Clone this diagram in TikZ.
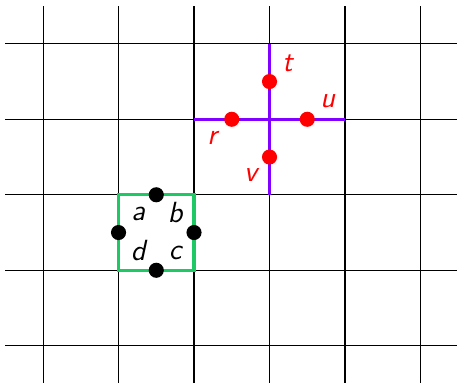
\documentclass[tikz,border=0pt]{standalone}
\usetikzlibrary{calc}
\definecolor{gridgreen}{RGB}{30,200,100}
\definecolor{violetline}{RGB}{130,0,255}
\begin{document}
\begin{tikzpicture}[x=1cm,y=1cm,
  gridline/.style={black,line width=0.4pt},
  bdot/.style={circle,fill=black,inner sep=0pt,minimum size=0.2cm},
  rdot/.style={circle,fill=red,inner sep=0pt,minimum size=0.2cm},
  lab/.style={font=\fontsize{11}{13}\selectfont\sffamily\slshape,inner sep=0pt},
  rlab/.style={lab,text=red}]
\useasboundingbox (-0.57,-0.49) rectangle (5.51,4.58);
% grid
\foreach \i in {0,...,5} {
  \draw[gridline] (\i,-0.49) -- (\i,4.50);
}
\foreach \j in {0,...,4} {
  \draw[gridline] (-0.50,\j) -- (5.48,\j);
}
% green square
\draw[gridgreen,line width=1.2pt] (1,1) rectangle (2,2);
\node[bdot] (top) at (1.5,2) {};
\node[bdot] (left) at (1,1.5) {};
\node[bdot] (right) at (2,1.5) {};
\node[bdot] (bottom) at (1.5,1) {};
\node[lab] (la) at (1.26,1.75) {a};
\node[lab] (lb) at (1.75,1.77) {b};
\node[lab] (ld) at (1.26,1.26) {d};
\node[lab] (lc) at (1.75,1.23) {c};
% purple cross
\coordinate (hl) at (2,3);
\coordinate (hr) at (4,3);
\coordinate (vt) at (3,4);
\coordinate (vb) at (3,2);
\draw[violetline,line width=1.2pt] (hl) -- (hr);
\draw[violetline,line width=1.2pt] (vt) -- (vb);
\node[rdot] (t) at (3,3.5) {};
\node[rdot] (r) at (2.5,3) {};
\node[rdot] (u) at (3.5,3) {};
\node[rdot] (v) at (3,2.5) {};
\node[rlab] (lt) at (3.24,3.74) {t};
\node[rlab] (lu) at (3.77,3.24) {u};
\node[rlab] (lr) at (2.24,2.76) {r};
\node[rlab] (lv) at (2.75,2.26) {v};
\end{tikzpicture}
\end{document}
